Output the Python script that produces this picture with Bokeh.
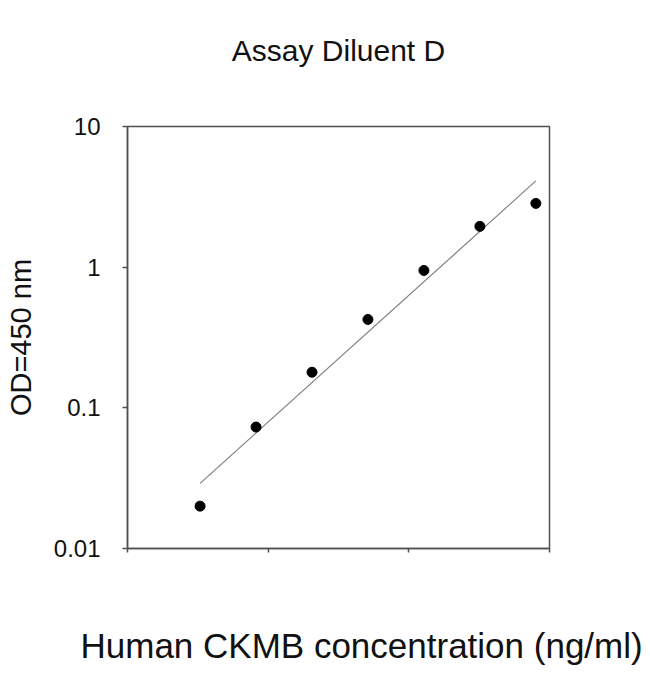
import numpy as np
from bokeh.plotting import figure
from bokeh.models import Range1d, FixedTicker, CustomJSTickFormatter, LinearAxis, Title
from bokeh.embed import file_html
from bokeh.resources import INLINE

# Data
concentration = [0.328, 0.82, 2.05, 5.12, 12.8, 32.0, 80.0]   # ng/ml
od450 = [0.020, 0.073, 0.179, 0.425, 0.948, 1.95, 2.84]
x_ticks = [0.1, 1, 10, 100]
y_ticks = [0.01, 0.1, 1, 10]
title_text = "Assay Diluent D"
x_label_text = "Human CKMB concentration (ng/ml)"
y_label_text = "OD=450 nm"

# log-log linear regression (trend line)
lx = np.log10(concentration)
ly = np.log10(od450)
slope, intercept = np.polyfit(lx, ly, 1)
fit_x = [concentration[0], concentration[-1]]
fit_y = [10 ** (intercept + slope * np.log10(v)) for v in fit_x]

FONT = "Liberation Sans"
AX = "#505050"
TXT = "#111111"

W, H = 650, 674
LEFT, RIGHT, TOP, BOTTOM = 127, 101, 126, 126

p = figure(width=W, height=H, x_axis_type="log", y_axis_type="log",
           x_range=Range1d(x_ticks[0], x_ticks[-1]), y_range=Range1d(y_ticks[0], y_ticks[-1]),
           output_backend="svg", toolbar_location=None,
           min_border_left=LEFT, min_border_right=RIGHT, min_border_top=TOP, min_border_bottom=BOTTOM)
p.extra_x_ranges = {"lab": Range1d(0, 1)}

p.xgrid.visible = False
p.ygrid.visible = False
p.outline_line_color = AX
p.outline_line_width = 1.5
p.background_fill_color = "white"
p.border_fill_color = "white"

# fit line
p.line(fit_x, fit_y, line_color="#808080", line_width=1.2)
# points
p.scatter(concentration, od450, size=10, color="black")

xa = p.xaxis[0]
xa.ticker = FixedTicker(ticks=x_ticks, minor_ticks=[])
xa.formatter = CustomJSTickFormatter(code="return '';")
xa.major_label_standoff = 0
xa.major_label_text_font_size = "1px"
xa.major_tick_out = 4
xa.major_tick_in = 0
xa.minor_tick_out = 0
xa.minor_tick_in = 0
xa.axis_line_color = AX
xa.axis_line_width = 1.5
xa.major_tick_line_color = AX
xa.major_tick_line_width = 1.5


def blank_axis(label=None, size="12px", standoff=0):
    return LinearAxis(x_range_name="lab",
                      ticker=FixedTicker(ticks=[], minor_ticks=[]),
                      axis_line_color=None, major_tick_line_color=None, minor_tick_line_color=None,
                      major_label_text_font_size="1px", major_label_standoff=0,
                      major_tick_out=0, major_tick_in=0, minor_tick_out=0, minor_tick_in=0,
                      axis_label=label, axis_label_text_font=FONT, axis_label_text_font_size=size,
                      axis_label_text_font_style="normal", axis_label_text_color=TXT,
                      axis_label_standoff=standoff)


# chart title (as a blank top axis's label)
p.add_layout(blank_axis(label=title_text, size="30px", standoff=60), "above")

# invisible spacer below the x axis (one white tick), then the x-axis caption
spacer = LinearAxis(x_range_name="lab", ticker=FixedTicker(ticks=[0.5], minor_ticks=[]),
                    formatter=CustomJSTickFormatter(code="return '';"),
                    axis_line_color=None, major_tick_line_color="white", minor_tick_line_color=None,
                    major_label_text_font_size="1px", major_label_standoff=0,
                    major_tick_out=71, major_tick_in=0, minor_tick_out=0, minor_tick_in=0)
p.add_layout(spacer, "below")
xcap = Title(text=x_label_text, align="left", offset=-47, standoff=0, vertical_align="bottom",
             text_font=FONT, text_font_size="35px", text_font_style="normal", text_color=TXT)
p.add_layout(xcap, "below")

ya = p.yaxis[0]
ya.ticker = FixedTicker(ticks=y_ticks, minor_ticks=[])
ya.formatter = CustomJSTickFormatter(code="return tick.toString();")
ya.major_label_text_font = FONT
ya.major_label_text_font_size = "24px"
ya.major_label_text_color = TXT
ya.major_label_standoff = 22
ya.major_tick_out = 5
ya.major_tick_in = 0
ya.minor_tick_out = 0
ya.minor_tick_in = 0
ya.axis_line_color = AX
ya.axis_line_width = 1.5
ya.major_tick_line_color = AX
ya.major_tick_line_width = 1.5
ya.axis_label = y_label_text
ya.axis_label_text_font = FONT
ya.axis_label_text_font_size = "29px"
ya.axis_label_text_font_style = "normal"
ya.axis_label_text_color = TXT
ya.axis_label_standoff = 14

open("out.html", "w").write(file_html(p, INLINE))
